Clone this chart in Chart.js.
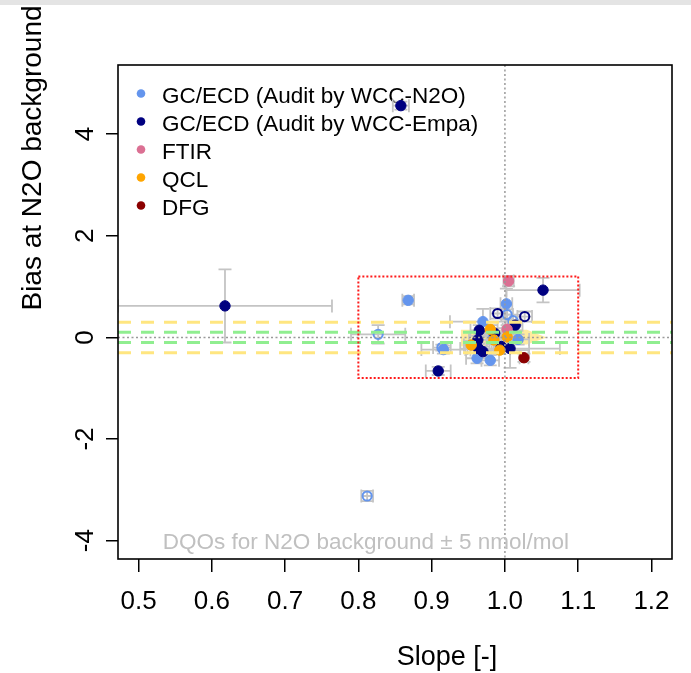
<!DOCTYPE html>
<html lang="en">
<head>
<meta charset="UTF-8">
<title>N2O bias vs slope</title>
<script src="https://cdn.jsdelivr.net/npm/chart.js"></script>
<style>
    html, body { margin: 0; padding: 0; background: #fff; }
    #wrap { position: relative; width: 691px; height: 673px; }
    #topbar { position: absolute; left: 0; top: 0; width: 691px; height: 5px; background: #e4e4e4; }
</style>
</head>
<body>
<div id="wrap">
    <canvas id="biasChart" width="691" height="673"></canvas>
    <div id="topbar"></div>
</div>
<script>
    // axis ticks
    const xTicks = [0.5, 0.6, 0.7, 0.8, 0.9, 1.0, 1.1, 1.2];
    const yTicks = [-4, -2, 0, 2, 4];

    const seriesLabels = ['GC/ECD (Audit by WCC-N2O)', 'GC/ECD (Audit by WCC-Empa)', 'FTIR', 'QCL', 'DFG'];
    const seriesColors = ['#6495ED', '#000080', '#DB7093', '#FFA500', '#8B0000'];

    // rows: [slope, bias, slope uncertainty, bias uncertainty]
    const gcN2o = [
        [0.868, 0.73, 0.008, 0.08],
        [0.916, -0.24, 0.030, 0.08],
        [1.002, 0.66, 0.008, 0.30],
        [0.970, 0.31, 0.045, 0.25],
        [0.962, -0.41, 0.015, 0.10],
        [0.980, -0.45, 0.012, 0.10],
        [1.018, -0.04, 0.015, 0.10],
        [0.985, 0.02, 0.020, 0.10]
    ];
    const gcN2oOpen = [
        [0.827, 0.06, 0.037, 0.18],
        [0.812, -3.12, 0.008, 0.10],
        [0.914, -0.20, 0.012, 0.06],
        [1.011, 0.33, 0.010, 0.12],
        [1.003, 0.45, 0.008, 0.10]
    ];
    const gcEmpa = [
        [0.858, 4.56, 0.011, 0.08],
        [0.618, 0.62, 0.146, 0.72],
        [0.909, -0.66, 0.017, 0.08],
        [1.052, 0.93, 0.050, 0.24],
        [1.014, 0.24, 0.010, 0.10],
        [0.965, 0.14, 0.012, 0.10],
        [0.986, 0.08, 0.010, 0.10],
        [0.963, -0.05, 0.012, 0.08],
        [0.964, -0.22, 0.015, 0.10],
        [1.007, -0.22, 0.068, 0.38],
        [0.970, -0.28, 0.012, 0.10],
        [0.995, -0.18, 0.010, 0.10]
    ];
    const gcEmpaOpen = [
        [0.990, 0.47, 0.010, 0.10],
        [1.027, 0.41, 0.010, 0.10]
    ];
    const ftir = [
        [1.005, 1.11, 0.007, 0.10],
        [1.003, 0.16, 0.006, 0.08]
    ];
    const qcl = [
        [0.980, 0.16, 0.010, 0.08],
        [1.003, 0.01, 0.010, 0.08],
        [0.954, -0.15, 0.010, 0.08],
        [0.993, -0.25, 0.040, 0.08],
        [0.985, -0.05, 0.010, 0.08]
    ];
    const dfg = [
        [1.026, -0.40, 0.006, 0.08]
    ];

    // pale area behind the central cluster
    const hullSlope = [0.94, 1.03, 1.057, 1.03, 0.94];
    const hullBias = [0.15, 0.15, 0.0, -0.14, -0.18];

    // DQO bands (nmol/mol) and the zoom window
    const dqoInner = [-0.1, 0.1];
    const dqoOuter = [-0.3, 0.3];
    const boxSlope = [0.8, 1.1];
    const boxBias = [-0.8, 1.2];

    const FONT = '"Liberation Sans", Arial, sans-serif';

    function toPoints(rows) {
        return rows.map(r => ({ x: r[0], y: r[1], xErr: r[2], yErr: r[3] }));
    }

    function filled(i, rows, order) {
        return {
            label: seriesLabels[i], data: toPoints(rows), order: order,
            backgroundColor: seriesColors[i], borderColor: seriesColors[i],
            borderWidth: 1, pointRadius: 5.2
        };
    }

    function open(i, rows, order) {
        return {
            label: seriesLabels[i], data: toPoints(rows), order: order,
            backgroundColor: 'rgba(0,0,0,0)', borderColor: seriesColors[i],
            borderWidth: 2, pointRadius: 4.6
        };
    }

    function hline(ctx, a, py, color, width, dash) {
        ctx.beginPath();
        ctx.setLineDash(dash);
        ctx.strokeStyle = color;
        ctx.lineWidth = width;
        ctx.moveTo(a.left, py);
        ctx.lineTo(a.right, py);
        ctx.stroke();
    }

    const frame = {
        id: 'frame',
        beforeDatasetsDraw(chart) {
            const { ctx, chartArea: a, scales: { x, y } } = chart;
            ctx.save();

            // legend
            ctx.font = '22.5px ' + FONT;
            ctx.textAlign = 'left';
            ctx.textBaseline = 'middle';
            seriesLabels.forEach((lab, i) => {
                const ly = a.top + 28.5 + i * 28;
                ctx.beginPath();
                ctx.fillStyle = seriesColors[i];
                ctx.arc(a.left + 23, ly, 4.3, 0, Math.PI * 2);
                ctx.fill();
                ctx.fillStyle = '#000';
                ctx.fillText(lab, a.left + 44, ly + 3);
            });

            ctx.beginPath();
            ctx.rect(a.left, a.top, a.width, a.height);
            ctx.clip();

            // pale area
            ctx.beginPath();
            hullSlope.forEach((s, i) => {
                const px = x.getPixelForValue(s), py = y.getPixelForValue(hullBias[i]);
                if (i === 0) ctx.moveTo(px, py); else ctx.lineTo(px, py);
            });
            ctx.closePath();
            ctx.fillStyle = 'rgba(255, 232, 140, 0.85)';
            ctx.fill();

            // error bars
            const cap = 6.5;
            ctx.strokeStyle = '#c4c4c4';
            ctx.lineWidth = 1.8;
            chart.data.datasets.forEach(ds => {
                ds.data.forEach(p => {
                    const px = x.getPixelForValue(p.x), py = y.getPixelForValue(p.y);
                    const x0 = x.getPixelForValue(p.x - p.xErr), x1 = x.getPixelForValue(p.x + p.xErr);
                    const y0 = y.getPixelForValue(p.y - p.yErr), y1 = y.getPixelForValue(p.y + p.yErr);
                    ctx.beginPath();
                    ctx.moveTo(x0, py); ctx.lineTo(x1, py);
                    ctx.moveTo(x0, py - cap); ctx.lineTo(x0, py + cap);
                    ctx.moveTo(x1, py - cap); ctx.lineTo(x1, py + cap);
                    ctx.moveTo(px, y0); ctx.lineTo(px, y1);
                    ctx.moveTo(px - cap, y0); ctx.lineTo(px + cap, y0);
                    ctx.moveTo(px - cap, y1); ctx.lineTo(px + cap, y1);
                    ctx.stroke();
                });
            });
            ctx.restore();
        },
        afterDatasetsDraw(chart) {
            const { ctx, chartArea: a, scales: { x, y } } = chart;
            ctx.save();
            ctx.beginPath();
            ctx.rect(a.left, a.top, a.width, a.height);
            ctx.clip();

            // DQO bands
            dqoOuter.forEach(v => hline(ctx, a, y.getPixelForValue(v), '#FFE680', 3, [13, 10]));
            dqoInner.forEach(v => hline(ctx, a, y.getPixelForValue(v), '#90EE90', 3, [13, 10]));

            // zero bias and unit slope
            hline(ctx, a, y.getPixelForValue(0), '#9a9a9a', 1.5, [2, 2.5]);
            const x1 = x.getPixelForValue(1.0);
            ctx.beginPath();
            ctx.moveTo(x1, a.top);
            ctx.lineTo(x1, a.bottom);
            ctx.stroke();

            // zoom window
            const bx0 = x.getPixelForValue(boxSlope[0]), bx1 = x.getPixelForValue(boxSlope[1]);
            const by0 = y.getPixelForValue(boxBias[1]), by1 = y.getPixelForValue(boxBias[0]);
            ctx.setLineDash([2, 2]);
            ctx.strokeStyle = '#ff1a1a';
            ctx.lineWidth = 2;
            ctx.strokeRect(bx0, by0, bx1 - bx0, by1 - by0);

            // DQO note
            ctx.setLineDash([]);
            ctx.font = '22.5px ' + FONT;
            ctx.fillStyle = '#c0c0c0';
            ctx.textAlign = 'left';
            ctx.textBaseline = 'middle';
            ctx.fillText('DQOs for N2O background \u00b1 5 nmol/mol', x.getPixelForValue(0.533), y.getPixelForValue(-4.04));
            ctx.restore();

            // plot box
            ctx.save();
            ctx.strokeStyle = '#000';
            ctx.lineWidth = 1.6;
            ctx.strokeRect(a.left, a.top, a.width, a.height);
            ctx.restore();
        },
        afterDraw(chart) {
            const { ctx, scales: { x, y } } = chart;
            ctx.save();
            ctx.fillStyle = '#000';
            ctx.font = '26px ' + FONT;
            ctx.textAlign = 'center';
            ctx.textBaseline = 'middle';
            xTicks.forEach(v => ctx.fillText(v.toFixed(1), x.getPixelForValue(v), 602));
            yTicks.forEach(v => {
                ctx.save();
                ctx.translate(86, y.getPixelForValue(v));
                ctx.rotate(-Math.PI / 2);
                ctx.fillText(String(v), 0, 0);
                ctx.restore();
            });
            ctx.font = '27px ' + FONT;
            ctx.fillText('Slope [-]', 447, 658);
            ctx.save();
            ctx.translate(33, 158);
            ctx.rotate(-Math.PI / 2);
            ctx.font = '28px ' + FONT;
            ctx.fillText('Bias at N2O background', 0, 0);
            ctx.restore();
            ctx.restore();
        }
    };

    new Chart(document.getElementById('biasChart'), {
        type: 'scatter',
        data: {
            datasets: [
                filled(4, dfg, 1),
                filled(3, qcl, 2),
                filled(2, ftir, 3),
                open(1, gcEmpaOpen, 4),
                filled(1, gcEmpa, 5),
                open(0, gcN2oOpen, 6),
                filled(0, gcN2o, 7)
            ]
        },
        options: {
            responsive: false,
            animation: false,
            devicePixelRatio: 1,
            layout: { padding: { left: 0, top: 65, right: 19, bottom: 0 } },
            plugins: { legend: { display: false }, tooltip: { enabled: false } },
            scales: {
                x: {
                    type: 'linear', min: 0.472, max: 1.228,
                    afterBuildTicks: s => { s.ticks = xTicks.map(v => ({ value: v })); },
                    afterFit: s => { s.height = 114; },
                    ticks: { display: false, autoSkip: false },
                    grid: { drawOnChartArea: false, drawTicks: true, tickLength: 13, color: '#000', lineWidth: 1.5 },
                    border: { display: false }
                },
                y: {
                    type: 'linear', min: -4.36, max: 5.36,
                    afterBuildTicks: s => { s.ticks = yTicks.map(v => ({ value: v })); },
                    afterFit: s => { s.width = 118; },
                    ticks: { display: false, autoSkip: false },
                    grid: { drawOnChartArea: false, drawTicks: true, tickLength: 12, color: '#000', lineWidth: 1.5 },
                    border: { display: false }
                }
            }
        },
        plugins: [frame]
    });
</script>
</body>
</html>
